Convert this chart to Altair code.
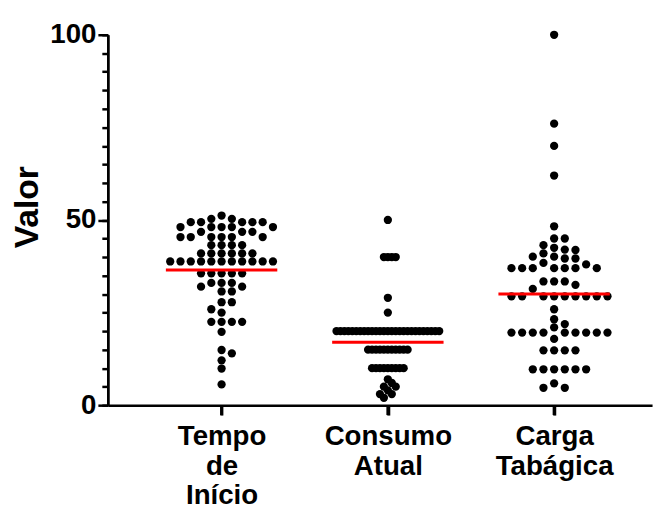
import altair as alt
import pandas as pd

# ---------------- data ----------------
categories = ["Tempo de Início", "Consumo Atual", "Carga Tabágica"]

tempo_inicio = [51.2, 50.3, 50.3,
                49.4, 49.4, 49.4, 49.4, 49.4,
                48.1, 48.1, 48.1, 48.1, 48.1,
                46.8, 46.8, 46.8,
                45.4, 45.4, 45.4, 45.4, 45.4, 45.4,
                43.2, 43.2, 43.2, 43.2,
                41.0, 41.0, 41.0, 41.0, 41.0, 41.0,
                38.8, 38.8, 38.8, 38.8, 38.8, 38.8, 38.8, 38.8, 38.8, 38.8, 38.8,
                35.6, 35.6, 35.6, 35.6, 35.6,
                33.0, 33.0, 33.0, 32.0, 32.0, 30.7, 30.7,
                27.8, 27.8, 25.9, 25.0,
                22.5, 22.5, 22.5, 22.5, 19.8,
                14.9, 14.0, 12.1, 9.9, 5.6]

consumo_atual = [50, 40, 40, 40, 40, 29, 25,
                 20, 20, 20, 20, 20, 20, 20, 20, 20, 20, 20, 20, 20, 20,
                 20, 20, 20, 20, 20, 20, 20, 20, 20, 20, 20, 20, 20,
                 15, 15, 15, 15, 15, 15, 15, 15, 15, 15, 15,
                 10, 10, 10, 10, 10, 10, 10, 10, 10,
                 7, 6, 5, 5, 4, 3, 3, 2]

carga_tabagica = [100, 76, 70, 62, 48.3, 45.0, 45.0, 43.2, 42.5, 42.0, 41.9,
                  41.0, 40.1, 40.1, 39.6, 39.6, 38.4, 38.0,
                  37.0, 37.0, 37.0, 37.0, 37.0, 37.0, 37.0,
                  33.4, 33.4, 33.4, 32.5, 31.4,
                  29.4, 29.4, 29.4, 29.4, 29.4, 29.4, 29.4, 29.4, 29.4,
                  25.9, 23.2, 21.9, 21.0,
                  19.6, 19.6, 19.6, 19.6, 19.6, 19.6, 19.6, 19.6, 19.6,
                  17.9, 14.8, 14.8, 14.8, 14.8,
                  9.7, 9.7, 9.7, 9.7, 9.7, 9.7,
                  5.9, 4.7, 4.7]

line_values = [36.5, 17.0, 30.0]   # red horizontal lines

y_major_ticks = [0, 50, 100]
y_minor_ticks = list(range(0, 101, 5))
x_ticks = [1, 2, 3]

series = [tempo_inicio, consumo_atual, carga_tabagica]

# ---------------- layout (style) ----------------
PLOT_W, PLOT_H = 551, 375
X_DOMAIN = [0.3155, 3.589]
PX_PER_CAT = PLOT_W / (X_DOMAIN[1] - X_DOMAIN[0])
PX_PER_UNIT = PLOT_H / 100.0
COL_SPACING = [10.4, 4.0, 10.8]   # px between dot columns per group
MIN_GAP = 8.0                     # px vertical gap within a column
LINE_HALF = 0.335                 # half width of red line, category units
X_TICK_LEN = 10
FONT = "Liberation Sans"


def column_layout(values, spacing, min_gap):
    order = sorted(range(len(values)), key=lambda i: -values[i])
    cols = {}
    offs = [0.0] * len(values)
    seq = [0]
    for k in range(1, 60):
        seq += [k, -k]
    for i in order:
        y = values[i] * PX_PER_UNIT
        for k in seq:
            if all(abs(y - yy) >= min_gap for yy in cols.get(k, [])):
                cols.setdefault(k, []).append(y)
                offs[i] = k * spacing
                break
    return offs


rows = []
for gi, (name, vals) in enumerate(zip(categories, series)):
    offs = column_layout(vals, COL_SPACING[gi], MIN_GAP)
    for v, o in zip(vals, offs):
        rows.append({"grupo": name, "valor": v, "xpos": gi + 1 + o / PX_PER_CAT})
df = pd.DataFrame(rows)

line_df = pd.DataFrame({
    "grupo": categories,
    "media": line_values,
    "x1": [i + 1 - LINE_HALF for i in range(3)],
    "x2": [i + 1 + LINE_HALF for i in range(3)],
})

tick_df = pd.DataFrame({"pos": x_ticks})

# multi-line labels
arrs = ["[" + ",".join("'" + w + "'" for w in c.split(" ")) + "]" for c in categories]
label_expr = ("datum.value == 1 ? " + arrs[0] + " : datum.value == 2 ? "
              + arrs[1] + " : " + arrs[2])

x_axis_ticks = alt.Axis(values=x_ticks, labels=False, title=None, grid=False,
                        orient="bottom", ticks=True,
                        tickSize=X_TICK_LEN, tickWidth=3, tickColor="black",
                        domainColor="black", domainWidth=2.5)

x_axis_labels = alt.Axis(values=x_ticks, labelExpr=label_expr, title=None, grid=False,
                         orient="bottom", ticks=False, domain=False,
                         labelFont=FONT, labelFontSize=28, labelFontWeight="bold",
                         labelColor="black", labelLineHeight=30, labelPadding=18,
                         labelOverlap=False)

y_axis_minor = alt.Axis(values=y_minor_ticks, labels=False, title=None, grid=False,
                        orient="left", ticks=True,
                        tickSize=6, tickWidth=2.5, tickColor="black",
                        domainColor="black", domainWidth=2.5)

y_axis_major = alt.Axis(values=y_major_ticks, title="Valor", grid=False,
                        orient="left", ticks=True,
                        tickSize=10, tickWidth=2.5, tickColor="black",
                        domainColor="black", domainWidth=2.5,
                        labelFont=FONT, labelFontSize=28, labelFontWeight="bold",
                        labelColor="black", labelPadding=2, labelOverlap=False,
                        labelFlush=False,
                        titleFont=FONT, titleFontSize=34, titleFontWeight="bold",
                        titleColor="black", titleX=-71, titleY=174, titleAngle=270,
                        titleBaseline="alphabetic", titleAlign="center")

xs = alt.Scale(domain=X_DOMAIN, nice=False, zero=False)
ys = alt.Scale(domain=[0, 100], nice=False, zero=True)

points = alt.Chart(df).mark_circle(size=70, color="black", opacity=1).encode(
    x=alt.X("xpos:Q", scale=xs, axis=x_axis_ticks),
    y=alt.Y("valor:Q", scale=ys, axis=y_axis_minor),
)

lines = alt.Chart(line_df).mark_rule(color="#ff0000", strokeWidth=3).encode(
    x=alt.X("x1:Q", scale=xs, axis=x_axis_labels),
    x2="x2:Q",
    y=alt.Y("media:Q", scale=ys, axis=y_axis_major),
)

# category tick marks below the x axis line
cat_ticks = alt.Chart(tick_df).mark_rule(color="black", strokeWidth=3, clip=False).encode(
    x=alt.X("pos:Q", scale=xs, axis=None),
    y=alt.value(PLOT_H),
    y2=alt.value(PLOT_H + X_TICK_LEN),
)

chart = alt.layer(points, lines, cat_ticks).resolve_axis(
    y="independent", x="independent"
).properties(
    width=PLOT_W, height=PLOT_H,
    autosize=alt.AutoSizeParams(type="none"),
    padding={"left": 101, "top": 24, "right": 5, "bottom": 102},
    background="white",
).configure_view(stroke=None)

chart.save("out.html", embed_options={"renderer": "svg", "actions": False})
